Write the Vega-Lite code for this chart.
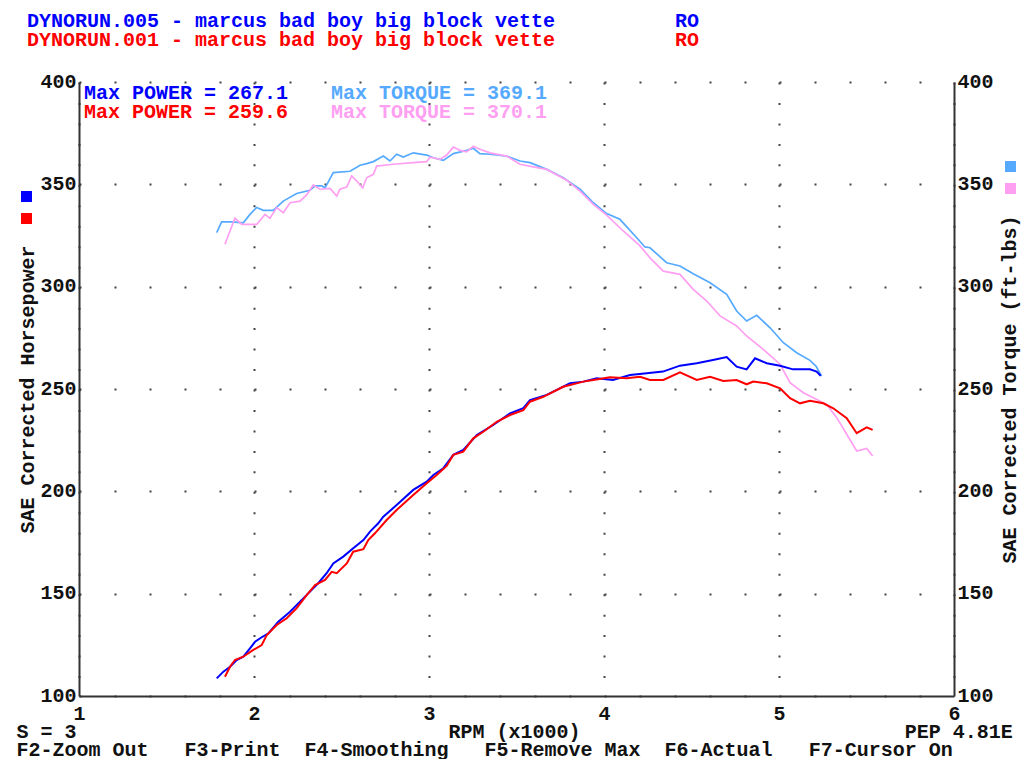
{
  "$schema": "https://vega.github.io/schema/vega-lite/v6.json",
  "width": 875,
  "height": 614,
  "autosize": {"type": "none"},
  "padding": {"left": 79, "top": 82, "right": 73, "bottom": 63},
  "background": "white",
  "config": {
    "view": {"stroke": null},
    "font": "Liberation Mono",
    "axis": {
      "labelFont": "Liberation Mono", "labelFontSize": 20, "labelFontWeight": "bold", "labelColor": "#111",
      "titleFont": "Liberation Mono", "titleFontSize": 20, "titleFontWeight": "bold", "titleColor": "#111",
      "domainColor": "#333", "domainWidth": 2, "ticks": false, "tickSize": 0,
      "gridColor": "#444", "gridWidth": 2, "gridOpacity": 1, "labelFlush": false, "labelOverlap": false
    }
  },
  "title": {
    "text": "DYNORUN.005 - marcus bad boy big block vette\u00a0\u00a0\u00a0\u00a0\u00a0\u00a0\u00a0\u00a0\u00a0\u00a0RO",
    "subtitle": "DYNORUN.001 - marcus bad boy big block vette\u00a0\u00a0\u00a0\u00a0\u00a0\u00a0\u00a0\u00a0\u00a0\u00a0RO",
    "anchor": "start", "frame": "group", "dx": -52, "offset": 21,
    "color": "#0000ff", "subtitleColor": "#ff0000",
    "font": "Liberation Mono", "fontSize": 20, "fontWeight": "bold",
    "subtitleFont": "Liberation Mono", "subtitleFontSize": 20, "subtitleFontWeight": "bold", "subtitlePadding": -1
  },
  "datasets": {
    "power": [
      {"run":"DYNORUN.005","rpm":1.787,"hp":108.6},{"run":"DYNORUN.005","rpm":1.825,"hp":111.9},{"run":"DYNORUN.005","rpm":1.863,"hp":114.3},{"run":"DYNORUN.005","rpm":1.901,"hp":117.6},{"run":"DYNORUN.005","rpm":1.939,"hp":119.2},{"run":"DYNORUN.005","rpm":1.977,"hp":123.3},{"run":"DYNORUN.005","rpm":2.006,"hp":126.5},{"run":"DYNORUN.005","rpm":2.044,"hp":128.7},{"run":"DYNORUN.005","rpm":2.082,"hp":130.6},{"run":"DYNORUN.005","rpm":2.139,"hp":136.3},{"run":"DYNORUN.005","rpm":2.206,"hp":141.2},{"run":"DYNORUN.005","rpm":2.263,"hp":146.1},{"run":"DYNORUN.005","rpm":2.320,"hp":151.0},{"run":"DYNORUN.005","rpm":2.367,"hp":155.1},{"run":"DYNORUN.005","rpm":2.415,"hp":160.0},{"run":"DYNORUN.005","rpm":2.453,"hp":164.8},{"run":"DYNORUN.005","rpm":2.510,"hp":168.1},{"run":"DYNORUN.005","rpm":2.567,"hp":172.2},{"run":"DYNORUN.005","rpm":2.625,"hp":176.2},{"run":"DYNORUN.005","rpm":2.663,"hp":180.3},{"run":"DYNORUN.005","rpm":2.710,"hp":184.4},{"run":"DYNORUN.005","rpm":2.739,"hp":187.6},{"run":"DYNORUN.005","rpm":2.815,"hp":193.3},{"run":"DYNORUN.005","rpm":2.910,"hp":200.7},{"run":"DYNORUN.005","rpm":2.987,"hp":204.7},{"run":"DYNORUN.005","rpm":3.025,"hp":208.0},{"run":"DYNORUN.005","rpm":3.082,"hp":211.3},{"run":"DYNORUN.005","rpm":3.139,"hp":217.8},{"run":"DYNORUN.005","rpm":3.196,"hp":220.2},{"run":"DYNORUN.005","rpm":3.273,"hp":227.5},{"run":"DYNORUN.005","rpm":3.367,"hp":232.4},{"run":"DYNORUN.005","rpm":3.463,"hp":238.1},{"run":"DYNORUN.005","rpm":3.539,"hp":240.6},{"run":"DYNORUN.005","rpm":3.577,"hp":244.6},{"run":"DYNORUN.005","rpm":3.673,"hp":247.1},{"run":"DYNORUN.005","rpm":3.806,"hp":252.8},{"run":"DYNORUN.005","rpm":3.882,"hp":253.6},{"run":"DYNORUN.005","rpm":3.958,"hp":255.2},{"run":"DYNORUN.005","rpm":4.051,"hp":254.4},{"run":"DYNORUN.005","rpm":4.149,"hp":256.8},{"run":"DYNORUN.005","rpm":4.244,"hp":257.7},{"run":"DYNORUN.005","rpm":4.337,"hp":258.5},{"run":"DYNORUN.005","rpm":4.434,"hp":261.4},{"run":"DYNORUN.005","rpm":4.530,"hp":262.6},{"run":"DYNORUN.005","rpm":4.623,"hp":264.2},{"run":"DYNORUN.005","rpm":4.701,"hp":265.6},{"run":"DYNORUN.005","rpm":4.758,"hp":260.9},{"run":"DYNORUN.005","rpm":4.815,"hp":259.6},{"run":"DYNORUN.005","rpm":4.863,"hp":265.0},{"run":"DYNORUN.005","rpm":4.930,"hp":262.6},{"run":"DYNORUN.005","rpm":5.006,"hp":261.4},{"run":"DYNORUN.005","rpm":5.080,"hp":259.6},{"run":"DYNORUN.005","rpm":5.177,"hp":259.6},{"run":"DYNORUN.005","rpm":5.215,"hp":258.5},{"run":"DYNORUN.005","rpm":5.238,"hp":256.5},
      {"run":"DYNORUN.001","rpm":1.834,"hp":109.4},{"run":"DYNORUN.001","rpm":1.863,"hp":114.3},{"run":"DYNORUN.001","rpm":1.891,"hp":117.6},{"run":"DYNORUN.001","rpm":1.939,"hp":119.2},{"run":"DYNORUN.001","rpm":1.996,"hp":122.5},{"run":"DYNORUN.001","rpm":2.044,"hp":124.9},{"run":"DYNORUN.001","rpm":2.073,"hp":129.8},{"run":"DYNORUN.001","rpm":2.130,"hp":134.7},{"run":"DYNORUN.001","rpm":2.187,"hp":138.0},{"run":"DYNORUN.001","rpm":2.244,"hp":142.9},{"run":"DYNORUN.001","rpm":2.301,"hp":149.3},{"run":"DYNORUN.001","rpm":2.349,"hp":154.2},{"run":"DYNORUN.001","rpm":2.406,"hp":156.7},{"run":"DYNORUN.001","rpm":2.444,"hp":160.7},{"run":"DYNORUN.001","rpm":2.473,"hp":160.0},{"run":"DYNORUN.001","rpm":2.530,"hp":164.8},{"run":"DYNORUN.001","rpm":2.567,"hp":170.5},{"run":"DYNORUN.001","rpm":2.625,"hp":171.7},{"run":"DYNORUN.001","rpm":2.653,"hp":176.2},{"run":"DYNORUN.001","rpm":2.691,"hp":179.5},{"run":"DYNORUN.001","rpm":2.758,"hp":186.0},{"run":"DYNORUN.001","rpm":2.815,"hp":190.9},{"run":"DYNORUN.001","rpm":2.910,"hp":198.2},{"run":"DYNORUN.001","rpm":2.987,"hp":203.9},{"run":"DYNORUN.001","rpm":3.044,"hp":208.0},{"run":"DYNORUN.001","rpm":3.101,"hp":212.4},{"run":"DYNORUN.001","rpm":3.139,"hp":217.8},{"run":"DYNORUN.001","rpm":3.196,"hp":219.4},{"run":"DYNORUN.001","rpm":3.253,"hp":225.9},{"run":"DYNORUN.001","rpm":3.310,"hp":229.1},{"run":"DYNORUN.001","rpm":3.387,"hp":234.0},{"run":"DYNORUN.001","rpm":3.463,"hp":237.3},{"run":"DYNORUN.001","rpm":3.539,"hp":239.7},{"run":"DYNORUN.001","rpm":3.577,"hp":243.8},{"run":"DYNORUN.001","rpm":3.653,"hp":246.2},{"run":"DYNORUN.001","rpm":3.767,"hp":251.1},{"run":"DYNORUN.001","rpm":3.882,"hp":253.6},{"run":"DYNORUN.001","rpm":3.939,"hp":254.4},{"run":"DYNORUN.001","rpm":4.034,"hp":255.7},{"run":"DYNORUN.001","rpm":4.130,"hp":255.2},{"run":"DYNORUN.001","rpm":4.206,"hp":256.0},{"run":"DYNORUN.001","rpm":4.263,"hp":254.4},{"run":"DYNORUN.001","rpm":4.339,"hp":254.4},{"run":"DYNORUN.001","rpm":4.434,"hp":258.1},{"run":"DYNORUN.001","rpm":4.530,"hp":254.4},{"run":"DYNORUN.001","rpm":4.606,"hp":256.0},{"run":"DYNORUN.001","rpm":4.682,"hp":253.9},{"run":"DYNORUN.001","rpm":4.758,"hp":254.4},{"run":"DYNORUN.001","rpm":4.815,"hp":252.3},{"run":"DYNORUN.001","rpm":4.853,"hp":253.6},{"run":"DYNORUN.001","rpm":4.930,"hp":252.8},{"run":"DYNORUN.001","rpm":5.006,"hp":250.3},{"run":"DYNORUN.001","rpm":5.063,"hp":245.5},{"run":"DYNORUN.001","rpm":5.120,"hp":243.0},{"run":"DYNORUN.001","rpm":5.177,"hp":244.3},{"run":"DYNORUN.001","rpm":5.253,"hp":243.0},{"run":"DYNORUN.001","rpm":5.310,"hp":240.6},{"run":"DYNORUN.001","rpm":5.387,"hp":235.7},{"run":"DYNORUN.001","rpm":5.444,"hp":228.4},{"run":"DYNORUN.001","rpm":5.501,"hp":231.3},{"run":"DYNORUN.001","rpm":5.535,"hp":230.0}
    ],
    "torque": [
      {"run":"DYNORUN.005","rpm":1.787,"tq":326.4},{"run":"DYNORUN.005","rpm":1.815,"tq":331.7},{"run":"DYNORUN.005","rpm":1.873,"tq":331.7},{"run":"DYNORUN.005","rpm":1.939,"tq":331.2},{"run":"DYNORUN.005","rpm":1.977,"tq":335.3},{"run":"DYNORUN.005","rpm":2.015,"tq":338.7},{"run":"DYNORUN.005","rpm":2.053,"tq":337.3},{"run":"DYNORUN.005","rpm":2.110,"tq":337.3},{"run":"DYNORUN.005","rpm":2.167,"tq":341.8},{"run":"DYNORUN.005","rpm":2.244,"tq":345.5},{"run":"DYNORUN.005","rpm":2.320,"tq":347.1},{"run":"DYNORUN.005","rpm":2.349,"tq":349.2},{"run":"DYNORUN.005","rpm":2.387,"tq":349.2},{"run":"DYNORUN.005","rpm":2.406,"tq":348.3},{"run":"DYNORUN.005","rpm":2.453,"tq":355.7},{"run":"DYNORUN.005","rpm":2.549,"tq":356.4},{"run":"DYNORUN.005","rpm":2.606,"tq":359.3},{"run":"DYNORUN.005","rpm":2.644,"tq":360.1},{"run":"DYNORUN.005","rpm":2.682,"tq":361.1},{"run":"DYNORUN.005","rpm":2.739,"tq":363.8},{"run":"DYNORUN.005","rpm":2.777,"tq":361.4},{"run":"DYNORUN.005","rpm":2.815,"tq":364.7},{"run":"DYNORUN.005","rpm":2.853,"tq":363.3},{"run":"DYNORUN.005","rpm":2.910,"tq":365.4},{"run":"DYNORUN.005","rpm":2.987,"tq":364.3},{"run":"DYNORUN.005","rpm":3.025,"tq":363.0},{"run":"DYNORUN.005","rpm":3.082,"tq":361.7},{"run":"DYNORUN.005","rpm":3.139,"tq":365.0},{"run":"DYNORUN.005","rpm":3.215,"tq":366.6},{"run":"DYNORUN.005","rpm":3.253,"tq":367.6},{"run":"DYNORUN.005","rpm":3.291,"tq":365.0},{"run":"DYNORUN.005","rpm":3.349,"tq":364.7},{"run":"DYNORUN.005","rpm":3.444,"tq":363.8},{"run":"DYNORUN.005","rpm":3.520,"tq":361.4},{"run":"DYNORUN.005","rpm":3.577,"tq":360.6},{"run":"DYNORUN.005","rpm":3.673,"tq":357.3},{"run":"DYNORUN.005","rpm":3.767,"tq":353.2},{"run":"DYNORUN.005","rpm":3.863,"tq":347.6},{"run":"DYNORUN.005","rpm":3.939,"tq":341.0},{"run":"DYNORUN.005","rpm":4.015,"tq":335.7},{"run":"DYNORUN.005","rpm":4.091,"tq":332.9},{"run":"DYNORUN.005","rpm":4.187,"tq":323.9},{"run":"DYNORUN.005","rpm":4.234,"tq":319.4},{"run":"DYNORUN.005","rpm":4.263,"tq":319.0},{"run":"DYNORUN.005","rpm":4.358,"tq":311.7},{"run":"DYNORUN.005","rpm":4.434,"tq":310.1},{"run":"DYNORUN.005","rpm":4.510,"tq":306.3},{"run":"DYNORUN.005","rpm":4.606,"tq":301.9},{"run":"DYNORUN.005","rpm":4.701,"tq":296.3},{"run":"DYNORUN.005","rpm":4.758,"tq":288.1},{"run":"DYNORUN.005","rpm":4.815,"tq":283.2},{"run":"DYNORUN.005","rpm":4.873,"tq":286.0},{"run":"DYNORUN.005","rpm":4.949,"tq":279.9},{"run":"DYNORUN.005","rpm":5.025,"tq":272.6},{"run":"DYNORUN.005","rpm":5.101,"tq":267.7},{"run":"DYNORUN.005","rpm":5.177,"tq":264.0},{"run":"DYNORUN.005","rpm":5.211,"tq":261.2},{"run":"DYNORUN.005","rpm":5.244,"tq":256.3},
      {"run":"DYNORUN.001","rpm":1.834,"tq":320.7},{"run":"DYNORUN.001","rpm":1.863,"tq":327.2},{"run":"DYNORUN.001","rpm":1.891,"tq":333.4},{"run":"DYNORUN.001","rpm":1.930,"tq":330.4},{"run":"DYNORUN.001","rpm":2.015,"tq":330.4},{"run":"DYNORUN.001","rpm":2.063,"tq":335.3},{"run":"DYNORUN.001","rpm":2.091,"tq":333.4},{"run":"DYNORUN.001","rpm":2.130,"tq":338.6},{"run":"DYNORUN.001","rpm":2.167,"tq":336.1},{"run":"DYNORUN.001","rpm":2.206,"tq":341.0},{"run":"DYNORUN.001","rpm":2.263,"tq":341.8},{"run":"DYNORUN.001","rpm":2.301,"tq":344.8},{"run":"DYNORUN.001","rpm":2.339,"tq":349.7},{"run":"DYNORUN.001","rpm":2.377,"tq":347.6},{"run":"DYNORUN.001","rpm":2.434,"tq":348.0},{"run":"DYNORUN.001","rpm":2.473,"tq":344.3},{"run":"DYNORUN.001","rpm":2.491,"tq":347.6},{"run":"DYNORUN.001","rpm":2.530,"tq":348.7},{"run":"DYNORUN.001","rpm":2.558,"tq":354.1},{"run":"DYNORUN.001","rpm":2.587,"tq":351.6},{"run":"DYNORUN.001","rpm":2.621,"tq":348.3},{"run":"DYNORUN.001","rpm":2.644,"tq":353.2},{"run":"DYNORUN.001","rpm":2.682,"tq":354.9},{"run":"DYNORUN.001","rpm":2.701,"tq":358.9},{"run":"DYNORUN.001","rpm":2.796,"tq":359.8},{"run":"DYNORUN.001","rpm":2.910,"tq":360.6},{"run":"DYNORUN.001","rpm":2.987,"tq":361.1},{"run":"DYNORUN.001","rpm":3.006,"tq":363.3},{"run":"DYNORUN.001","rpm":3.063,"tq":362.2},{"run":"DYNORUN.001","rpm":3.101,"tq":364.3},{"run":"DYNORUN.001","rpm":3.139,"tq":368.2},{"run":"DYNORUN.001","rpm":3.177,"tq":366.6},{"run":"DYNORUN.001","rpm":3.215,"tq":365.9},{"run":"DYNORUN.001","rpm":3.253,"tq":368.6},{"run":"DYNORUN.001","rpm":3.291,"tq":367.1},{"run":"DYNORUN.001","rpm":3.349,"tq":365.4},{"run":"DYNORUN.001","rpm":3.444,"tq":363.8},{"run":"DYNORUN.001","rpm":3.520,"tq":359.8},{"run":"DYNORUN.001","rpm":3.596,"tq":358.5},{"run":"DYNORUN.001","rpm":3.673,"tq":357.3},{"run":"DYNORUN.001","rpm":3.787,"tq":352.0},{"run":"DYNORUN.001","rpm":3.863,"tq":346.7},{"run":"DYNORUN.001","rpm":3.939,"tq":340.2},{"run":"DYNORUN.001","rpm":4.015,"tq":335.0},{"run":"DYNORUN.001","rpm":4.110,"tq":327.2},{"run":"DYNORUN.001","rpm":4.206,"tq":319.9},{"run":"DYNORUN.001","rpm":4.263,"tq":314.1},{"run":"DYNORUN.001","rpm":4.339,"tq":307.6},{"run":"DYNORUN.001","rpm":4.434,"tq":306.0},{"run":"DYNORUN.001","rpm":4.510,"tq":298.7},{"run":"DYNORUN.001","rpm":4.587,"tq":293.0},{"run":"DYNORUN.001","rpm":4.663,"tq":285.7},{"run":"DYNORUN.001","rpm":4.758,"tq":280.8},{"run":"DYNORUN.001","rpm":4.815,"tq":275.9},{"run":"DYNORUN.001","rpm":4.910,"tq":269.4},{"run":"DYNORUN.001","rpm":5.006,"tq":262.1},{"run":"DYNORUN.001","rpm":5.063,"tq":253.1},{"run":"DYNORUN.001","rpm":5.139,"tq":248.2},{"run":"DYNORUN.001","rpm":5.196,"tq":245.7},{"run":"DYNORUN.001","rpm":5.272,"tq":242.5},{"run":"DYNORUN.001","rpm":5.330,"tq":236.0},{"run":"DYNORUN.001","rpm":5.387,"tq":227.9},{"run":"DYNORUN.001","rpm":5.444,"tq":219.7},{"run":"DYNORUN.001","rpm":5.501,"tq":221.0},{"run":"DYNORUN.001","rpm":5.535,"tq":217.3}
    ]
  },
  "layer": [
    {
      "layer": [
        {
          "data": {"name": "torque"},
          "mark": {"type": "line", "strokeWidth": 1.7},
          "encoding": {
            "x": {"field": "rpm", "type": "quantitative", "scale": {"domain": [1, 6], "nice": false, "zero": false}},
            "y": {
              "field": "tq", "type": "quantitative",
              "scale": {"domain": [100, 400], "nice": false, "zero": false},
              "axis": {
                "orient": "right", "values": [100, 150, 200, 250, 300, 350, 400], "grid": false,
                "labelPadding": 3, "labelAlign": "left", "labelBaseline": "middle", "labelOffset": -1,
                "title": "SAE Corrected Torque (ft-lbs)", "titleAngle": -90, "titleBaseline": "top", "titlePadding": 6
              }
            },
            "color": {
              "field": "run", "type": "nominal",
              "scale": {"domain": ["DYNORUN.005", "DYNORUN.001"], "range": ["#55aaff", "#ff9ff2"]},
              "legend": {
                "orient": "none", "legendX": 926, "legendY": 79, "title": null, "direction": "vertical",
                "symbolType": "square", "symbolSize": 16, "symbolStrokeWidth": 7, "labelExpr": "''",
                "rowPadding": -15, "padding": 0, "symbolOffset": 0, "labelFontSize": 1
              }
            }
          }
        },
        {
          "data": {"values": [{"label": "Max TORQUE = 369.1"}]},
          "mark": {"type": "text", "color": "#55aaff", "font": "Liberation Mono", "fontSize": 20, "fontWeight": "bold", "align": "left", "baseline": "middle"},
          "encoding": {"x": {"datum": 2.44}, "y": {"datum": 394.6}, "text": {"field": "label"}}
        },
        {
          "data": {"values": [{"label": "Max TORQUE = 370.1"}]},
          "mark": {"type": "text", "color": "#ff9ff2", "font": "Liberation Mono", "fontSize": 20, "fontWeight": "bold", "align": "left", "baseline": "middle"},
          "encoding": {"x": {"datum": 2.44}, "y": {"datum": 385.3}, "text": {"field": "label"}}
        }
      ]
    },
    {
      "layer": [
        {
          "data": {"name": "power"},
          "mark": {"type": "line", "strokeWidth": 2},
          "encoding": {
            "x": {
              "field": "rpm", "type": "quantitative",
              "scale": {"domain": [1, 6], "nice": false, "zero": false},
              "axis": {
                "values": [1, 2, 3, 4, 5, 6], "format": "d", "grid": true, "gridDash": [2, 18.4667],
                "labelPadding": 7,
                "title": [
                  "S = 3\u00a0\u00a0\u00a0\u00a0\u00a0\u00a0\u00a0\u00a0\u00a0\u00a0\u00a0\u00a0\u00a0\u00a0\u00a0\u00a0\u00a0\u00a0\u00a0\u00a0\u00a0\u00a0\u00a0\u00a0\u00a0\u00a0\u00a0\u00a0\u00a0\u00a0\u00a0RPM (x1000)\u00a0\u00a0\u00a0\u00a0\u00a0\u00a0\u00a0\u00a0\u00a0\u00a0\u00a0\u00a0\u00a0\u00a0\u00a0\u00a0\u00a0\u00a0\u00a0\u00a0\u00a0\u00a0\u00a0\u00a0\u00a0\u00a0\u00a0PEP 4.81E",
                  "F2-Zoom Out\u00a0\u00a0\u00a0F3-Print\u00a0\u00a0F4-Smoothing\u00a0\u00a0\u00a0F5-Remove Max\u00a0\u00a0F6-Actual\u00a0\u00a0\u00a0F7-Cursor On"
                ],
                "titleLineHeight": 18, "titlePadding": -2,
                "titleAnchor": "start", "titleAlign": "left", "titleX": -63
              }
            },
            "y": {
              "field": "hp", "type": "quantitative",
              "scale": {"domain": [100, 400], "nice": false, "zero": false},
              "axis": {
                "orient": "left", "values": [100, 150, 200, 250, 300, 350, 400], "grid": true, "gridDash": [2, 33],
                "labelPadding": 3, "labelBaseline": "middle", "labelOffset": -1,
                "title": "SAE Corrected Horsepower", "titlePadding": 2
              }
            },
            "color": {
              "field": "run", "type": "nominal",
              "scale": {"domain": ["DYNORUN.005", "DYNORUN.001"], "range": ["#0000ff", "#ff0000"]},
              "legend": {
                "orient": "none", "legendX": -58, "legendY": 109, "title": null, "direction": "vertical",
                "symbolType": "square", "symbolSize": 16, "symbolStrokeWidth": 7, "labelExpr": "''",
                "rowPadding": -15, "padding": 0, "symbolOffset": 0, "labelFontSize": 1
              }
            }
          }
        },
        {
          "data": {"values": [{"label": "Max POWER = 267.1"}]},
          "mark": {"type": "text", "color": "#0000ff", "font": "Liberation Mono", "fontSize": 20, "fontWeight": "bold", "align": "left", "baseline": "middle"},
          "encoding": {"x": {"datum": 1.029}, "y": {"datum": 394.6}, "text": {"field": "label"}}
        },
        {
          "data": {"values": [{"label": "Max POWER = 259.6"}]},
          "mark": {"type": "text", "color": "#ff0000", "font": "Liberation Mono", "fontSize": 20, "fontWeight": "bold", "align": "left", "baseline": "middle"},
          "encoding": {"x": {"datum": 1.029}, "y": {"datum": 385.3}, "text": {"field": "label"}}
        }
      ]
    }
  ],
  "resolve": {"scale": {"y": "independent", "color": "independent"}, "axis": {"y": "independent"}}
}
